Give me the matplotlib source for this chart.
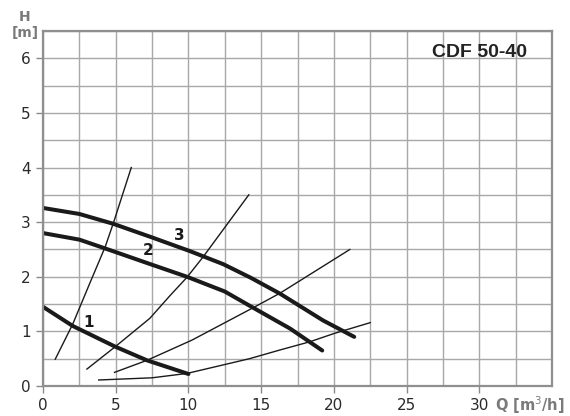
import matplotlib
matplotlib.use("Agg")
import matplotlib.pyplot as plt
from matplotlib.ticker import MultipleLocator

# Pump curves (thick)
pump1_q = [0.0, 2.04, 4.97, 7.15, 10.0]
pump1_h = [1.45, 1.10, 0.72, 0.47, 0.22]
pump2_q = [0.0, 2.5, 4.26, 7.5, 9.9, 12.5, 14.34, 17.0, 19.2]
pump2_h = [2.80, 2.68, 2.52, 2.22, 2.00, 1.73, 1.45, 1.05, 0.65]
pump3_q = [0.0, 2.5, 4.83, 7.5, 10.1, 12.4, 14.3, 16.3, 19.26, 21.4]
pump3_h = [3.26, 3.15, 2.97, 2.72, 2.47, 2.23, 1.98, 1.69, 1.20, 0.90]

# System curves (thin)
sysA_q = [0.84, 2.04, 3.2, 4.28, 4.86, 6.07]
sysA_h = [0.49, 1.13, 1.87, 2.55, 3.00, 4.00]
sysB_q = [3.02, 4.97, 7.35, 8.75, 9.9, 11.0, 14.15]
sysB_h = [0.31, 0.72, 1.24, 1.66, 1.99, 2.36, 3.50]
sysC_q = [4.92, 7.15, 10.24, 14.5, 16.3, 21.1]
sysC_h = [0.25, 0.47, 0.84, 1.44, 1.70, 2.50]
sysD_q = [3.83, 7.5, 9.9, 14.2, 16.3, 18.35, 20.0, 22.5]
sysD_h = [0.11, 0.15, 0.23, 0.50, 0.66, 0.81, 0.96, 1.16]

curve_labels = ["1", "2", "3"]
label_q = [3.15, 7.2, 9.35]
label_h = [1.17, 2.49, 2.76]

x_ticks = [0, 5, 10, 15, 20, 25, 30]
y_ticks = [0, 1, 2, 3, 4, 5, 6]
title = "CDF 50-40"

fig = plt.figure(figsize=(5.7, 4.16), dpi=100)
ax = fig.add_axes([43/570, 1-386/416, (552-43)/570, (386-31)/416])
ax.set_xlim(0, 35)
ax.set_ylim(0, 6.5)

ax.xaxis.set_minor_locator(MultipleLocator(2.5))
ax.yaxis.set_minor_locator(MultipleLocator(0.5))
ax.set_xticks(x_ticks)
ax.set_yticks(y_ticks)
ax.grid(which='both', color='#a8a8a8', linewidth=1.0)
ax.set_axisbelow(True)
ax.tick_params(which='minor', length=0)
ax.tick_params(which='major', length=5, width=1.0, color='#8a8a8a',
               labelsize=11, labelcolor='#2a2a2a', pad=4)
for s in ax.spines.values():
    s.set_color('#8f8f8f')
    s.set_linewidth(1.6)

thick = dict(color='#1a1a1a', linewidth=2.9, solid_capstyle='round', solid_joinstyle='round')
thin = dict(color='#1a1a1a', linewidth=1.0, solid_joinstyle='round')
for q, h in [(sysA_q, sysA_h), (sysB_q, sysB_h), (sysC_q, sysC_h), (sysD_q, sysD_h)]:
    ax.plot(q, h, **thin)
for q, h in [(pump1_q, pump1_h), (pump2_q, pump2_h), (pump3_q, pump3_h)]:
    ax.plot(q, h, **thick)

for t, q, h in zip(curve_labels, label_q, label_h):
    ax.text(q, h, t, fontsize=11, fontweight='bold', color='#1a1a1a',
            ha='center', va='center')

ax.text(30.0, 6.1, title, fontsize=14, fontweight='bold', color='#222222',
        ha='center', va='center', family=['Liberation Sans', 'DejaVu Sans'])

fig.text(25/570, 1-17/416, "H", fontsize=10, fontweight='bold', color='#7a7a7a',
         ha='center', va='center')
fig.text(25/570, 1-33/416, "[m]", fontsize=10, fontweight='bold', color='#7a7a7a',
         ha='center', va='center')
fig.text(530/570, 1-405/416, r"Q [m$^3$/h]", fontsize=10.5, fontweight='bold', color='#7a7a7a',
         ha='center', va='center')

fig.savefig("out.png", dpi=100)
